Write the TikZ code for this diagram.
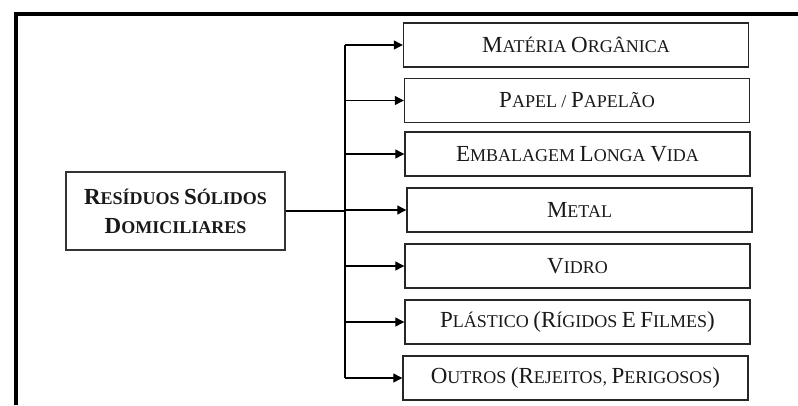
\documentclass[tikz,border=0pt]{standalone}
\usepackage{fontspec}
\setmainfont{Liberation Serif}
\usetikzlibrary{arrows.meta}
\newcommand\BigL[1]{{\fontsize{23}{29}\selectfont #1}}
\tikzset{
  catbox/.style={draw=black!85, line width=1.4pt, minimum width=345pt, minimum height=44pt,
    inner sep=0pt, text=black!90, font=\fontsize{18}{29}\selectfont},
  mainbox/.style={draw=black!80, line width=1.4pt, minimum width=219pt, minimum height=78pt,
    inner sep=0pt, align=center, text=black!90, font=\fontsize{18}{29}\selectfont\bfseries},
  branch/.style={line width=1.2pt, -{Triangle[length=9pt,width=9pt]}},
}
\begin{document}
\begin{tikzpicture}[x=1pt,y=-1pt]
\useasboundingbox (0,0) rectangle (798,405);
% frame
\draw[line width=4pt] (16,405) -- (16,13.7) -- (798,13.7);
% main node
\node[mainbox] (main) at (175.5,211) {\BigL{R}ESÍDUOS \BigL{S}ÓLIDOS\\\BigL{D}OMICILIARES};
% categories
\node[catbox] (b1) at (576,45)    {\BigL{M}ATÉRIA \BigL{O}RGÂNICA};
\node[catbox] (b2) at (577,100.5) {\BigL{P}APEL / \BigL{P}APELÃO};
\node[catbox] (b3) at (577.5,154) {\BigL{E}MBALAGEM \BigL{L}ONGA \BigL{V}IDA};
\node[catbox] (b4) at (579.5,210) {\BigL{M}ETAL};
\node[catbox] (b5) at (577.5,266) {\BigL{V}IDRO};
\node[catbox] (b6) at (577.5,322) {\BigL{P}LÁSTICO \BigL{(R}ÍGIDOS \BigL{E} \BigL{F}ILMES\BigL{)}};
\node[catbox] (b7) at (575.5,378) {\BigL{O}UTROS \BigL{(R}EJEITOS, \BigL{P}ERIGOSOS\BigL{)}};
% trunk
\coordinate (t) at (345,211);
\draw[line width=2pt] (main.east) -- (t);
\draw[line width=1.3pt] (t |- b1.west) -- (t |- b7.west);
\foreach \i in {1,...,7} {
  \draw[branch] (t |- b\i.west) -- (b\i.west);
}
\end{tikzpicture}
\end{document}
